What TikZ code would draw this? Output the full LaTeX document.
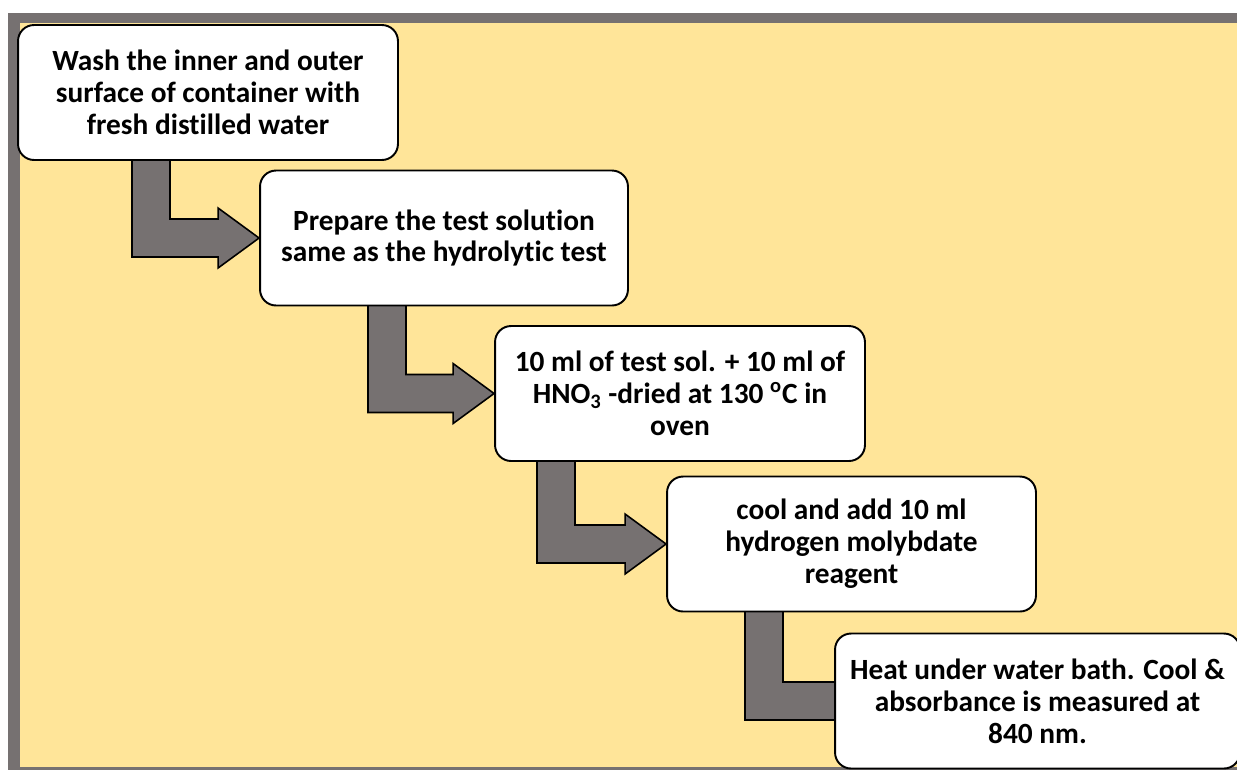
\documentclass[tikz,border=0pt]{standalone}
\usepackage{fontspec}
\setmainfont{Carlito}[Ligatures=NoCommon]
\usetikzlibrary{calc}
\usepackage{xcolor}
\definecolor{framegray}{HTML}{767171}
\definecolor{paper}{HTML}{FFE599}
\pgfdeclarelayer{back}
\pgfsetlayers{back,main}

\tikzset{
	stepbox/.style={rectangle,rounded corners=0.32cm,fill=white,draw=black,line width=1.1pt,
		minimum width=7.4cm,minimum height=2.7cm,align=center,inner sep=2pt,
		font=\fontsize{16.7}{18.2}\selectfont\bfseries},
	bentarrow/.style={fill=framegray,draw=black,line width=0.9pt,line join=miter}
}

\begin{document}
\begin{tikzpicture}[x=0.02cm,y=-0.02cm]
				\useasboundingbox (0,0) rectangle (1237,769);
				\clip (0,0) rectangle (1237,769);
				
				\node(w1) at (208,92.5)[stepbox,minimum width=7.6cm]{Wash the inner and outer\\surface of container with\\fresh distilled water};
				\node(w2) at (444,238)[stepbox,minimum width=7.36cm]{Prepare the test solution\\same as the hydrolytic test};
				\node(w3) at (680,393.5)[stepbox]{10 ml of test sol. + 10 ml of\\HNO\textsubscript{3} -dried at 130 \textsuperscript{o}C in\\oven};
				\node(w4) at (851.5,544)[stepbox,minimum width=7.38cm]{cool and add 10 ml\\hydrogen molybdate\\reagent};
				\node(w5) at (1037.5,701)[stepbox,minimum width=8.1cm]{Heat under water bath. Cool \&\\absorbance is measured at\\840 nm.};
				
				\coordinate(s1) at (132,160);
				\coordinate(s2) at (368,305);
				\coordinate(s3) at (537,461);
				\coordinate(s4) at (745,611);
				\coordinate(t5) at ($(w5.west)+(45,0)$);
				
				\begin{pgfonlayer}{back}
					\fill[framegray] (8,13) rectangle (1240,772);
					\fill[paper] (20,23) rectangle (1240,767);
					\foreach \s/\t in {s1/w2.west,s2/w3.west,s3/w4.west,s4/t5}
						\draw[bentarrow] ($(\s)+(38,0)$) |- ($(\t)+(-41,-19)$) -- ++(0,-11) -- (\t) -- ++(-41,30) -- ++(0,-11) -| (\s) -- cycle;
				\end{pgfonlayer}
			\end{tikzpicture}
\end{document}
